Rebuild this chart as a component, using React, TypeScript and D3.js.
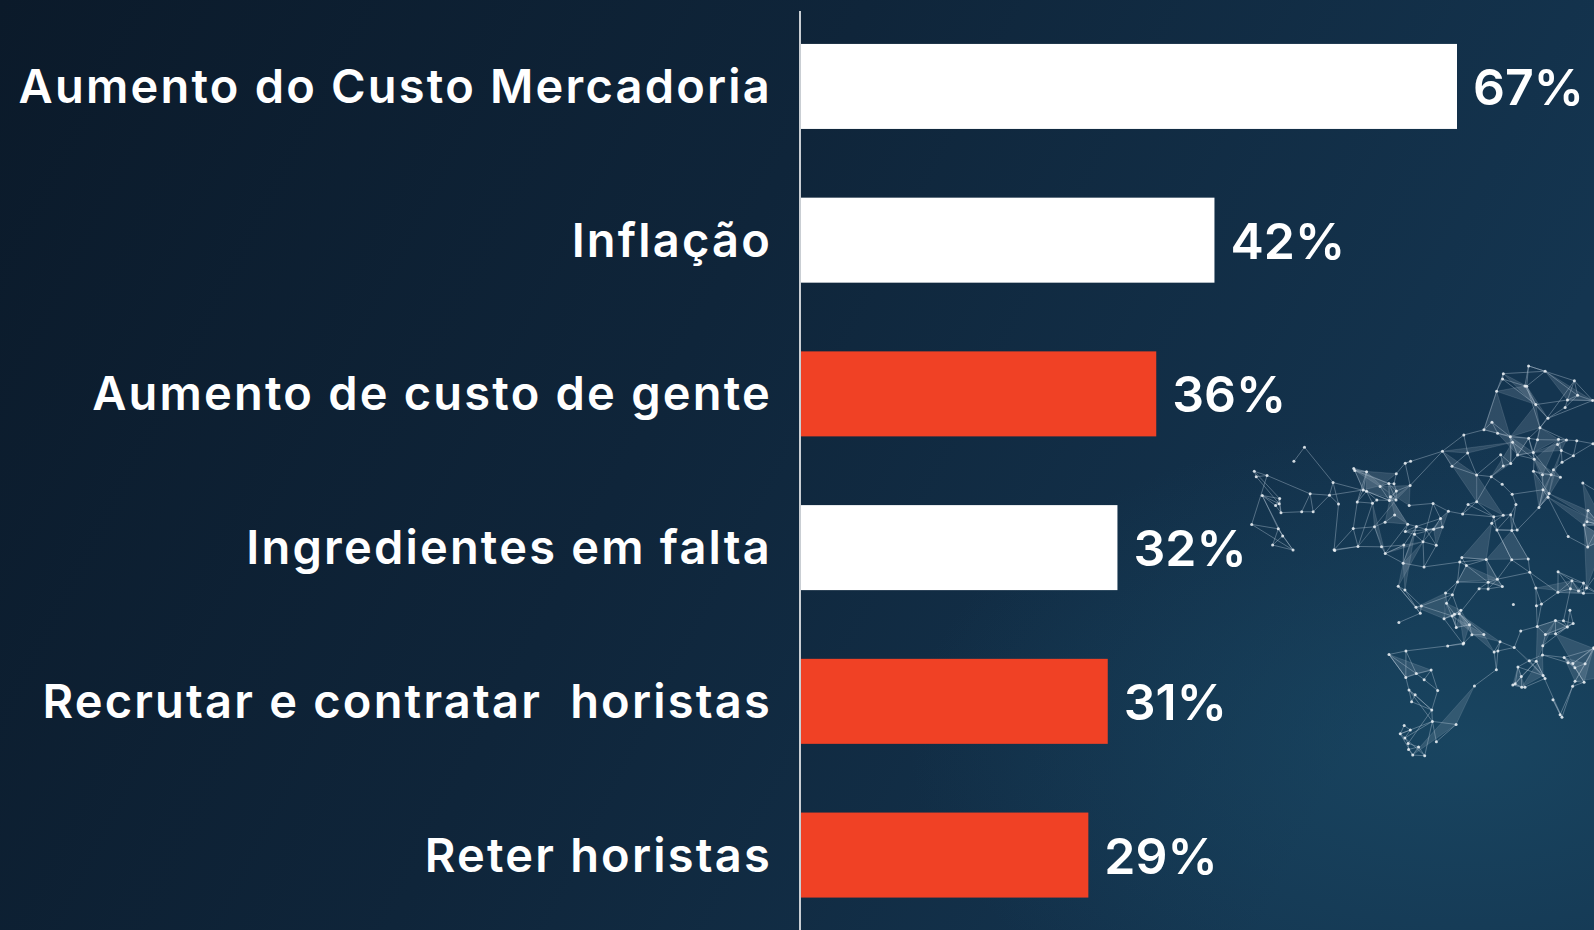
import { useMemo } from 'react';
import * as d3 from 'd3';

const categories = [
  'Aumento do Custo Mercadoria',
  'Inflação',
  'Aumento de custo de gente',
  'Ingredientes em falta',
  'Recrutar e contratar  horistas',
  'Reter horistas',
];
const values = [67, 42, 36, 32, 31, 29];
const highlighted = [false, false, true, false, true, true];

const W = 1594;
const H = 930;
const WHITE = '#ffffff';
const RED = '#f04125';

// deterministic decoration for the background "network" art
function makeNetwork() {
  let s = 11;
  const rnd = () => { s = (s * 16807) % 2147483647; return (s - 1) / 2147483646; };
  const clusters = [
    { cx: 1320, cy: 500, rx: 85, ry: 60, n: 40 },
    { cx: 1500, cy: 530, rx: 120, ry: 110, n: 110 },
    { cx: 1470, cy: 650, rx: 90, ry: 70, n: 40 },
    { cx: 1560, cy: 670, rx: 50, ry: 50, n: 25 },
    { cx: 1540, cy: 420, rx: 60, ry: 60, n: 25 },
    { cx: 1430, cy: 730, rx: 40, ry: 30, n: 12 },
  ];
  const pts: [number, number][] = [];
  clusters.forEach(c => {
    for (let i = 0; i < c.n; i++) {
      const a = rnd() * Math.PI * 2;
      const d = Math.sqrt(rnd());
      pts.push([c.cx + Math.cos(a) * d * c.rx, c.cy + Math.sin(a) * d * c.ry]);
    }
  });
  const nearest = (i: number) => pts
    .map((q, j) => ({ j, d: Math.hypot(pts[i][0] - q[0], pts[i][1] - q[1]) }))
    .filter(o => o.j !== i)
    .sort((a, b) => a.d - b.d);
  const links: [number, number][] = [];
  pts.forEach((_, i) => {
    nearest(i).slice(0, 3).forEach(o => { if (o.j > i) links.push([i, o.j]); });
    const far = nearest(i)[5 + Math.floor(rnd() * 6)];
    if (rnd() < 0.4) links.push([i, far.j]);
  });
  const tris: [number, number, number][] = [];
  for (let k = 0; k < 60; k++) {
    const i = Math.floor(rnd() * pts.length);
    const nb = nearest(i);
    tris.push([i, nb[2 + Math.floor(rnd() * 4)].j, nb[6 + Math.floor(rnd() * 8)].j]);
  }
  return { pts, links, tris };
}

export default function App() {
  const net = useMemo(makeNetwork, []);

  const y = d3.scaleBand<string>()
    .domain(categories)
    .range([5.5, 936])
    .paddingInner(0.447)
    .paddingOuter(0.25);

  const x = d3.scaleLinear().domain([0, 67]).range([807, 1457]);
  const axisX = 801;

  const font = 'Inter, "Open Sans", sans-serif';

  return (
    <div style={{ position: 'fixed', left: 0, top: 0, width: W, height: H }}>
      <svg width={W} height={H} style={{ display: 'block' }}>
        <defs>
          <linearGradient id="bg" x1="0" y1="0" x2="1" y2="0.3">
            <stop offset="0" stopColor="#0b1a2a" />
            <stop offset="0.5" stopColor="#0f253a" />
            <stop offset="1" stopColor="#143550" />
          </linearGradient>
          <radialGradient id="glow" cx="0.92" cy="0.8" r="0.35">
            <stop offset="0" stopColor="#1d5470" stopOpacity="0.5" />
            <stop offset="1" stopColor="#1d5470" stopOpacity="0" />
          </radialGradient>
        </defs>
        <rect width={W} height={H} fill="url(#bg)" />
        <rect width={W} height={H} fill="url(#glow)" />

        <g>
          {net.tris.map((t, i) => (
            <polygon key={'t' + i}
              points={t.map(k => net.pts[k].join(',')).join(' ')}
              fill="#c2cfdb" fillOpacity={0.16} stroke="#c2cfdb" strokeOpacity={0.25} strokeWidth={0.6} />
          ))}
          {net.links.map(([a, b], i) => (
            <line key={'l' + i}
              x1={net.pts[a][0]} y1={net.pts[a][1]} x2={net.pts[b][0]} y2={net.pts[b][1]}
              stroke="#b5c5d4" strokeOpacity={0.5} strokeWidth={0.8} />
          ))}
          {net.pts.map((p, i) => (
            <circle key={'p' + i} cx={p[0]} cy={p[1]} r={1.5} fill="#eef3f7" fillOpacity={0.85} />
          ))}
        </g>

        {categories.map((c, i) => {
          const by = y(c)!;
          const cy = by + y.bandwidth() / 2;
          return (
            <g key={c}>
              <rect x={axisX} y={by} width={x(values[i]) - axisX} height={y.bandwidth()}
                fill={highlighted[i] ? RED : WHITE} />
              <text x={772} y={cy} dy="0.35em" textAnchor="end" fill="#fff"
                fontFamily={font} fontWeight={600} fontSize={47} letterSpacing={2.2}
                style={{ whiteSpace: 'pre' }}>{c}</text>
              <text x={x(values[i]) + 16} y={cy + 1} dy="0.35em" fill="#fff"
                fontFamily={font} fontWeight={600} fontSize={50}>{values[i]}%</text>
            </g>
          );
        })}

        <line x1={800} x2={800} y1={11} y2={H} stroke="#c9ced3" strokeWidth={2} />
      </svg>
    </div>
  );
}
